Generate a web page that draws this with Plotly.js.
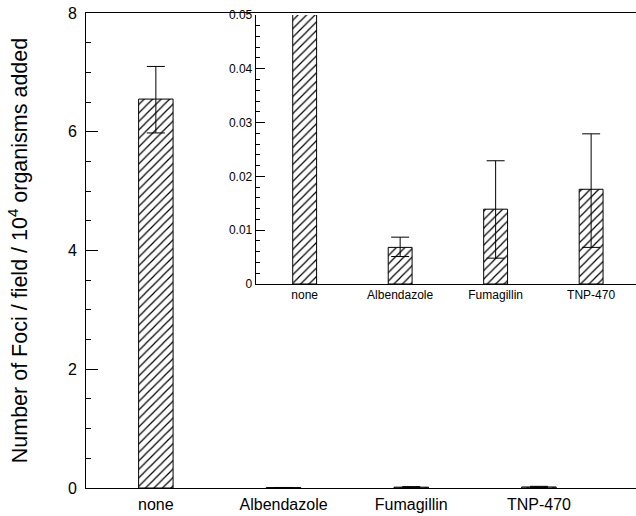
<!DOCTYPE html>
<html>
<head>
<meta charset="utf-8">
<script src="https://cdn.plot.ly/plotly-3.0.1.min.js"></script>
<style>html,body{margin:0;padding:0;background:#fff;}#chart{width:636px;height:516px;}</style>
</head>
<body>
<div id="chart"></div>
<script>
const categories = ['none', 'Albendazole', 'Fumagillin', 'TNP-470'];
const fociValues = [6.55, 0.0068, 0.0139, 0.0176];
const errorPlus = [0.55, 0.0019, 0.0090, 0.0103];
const errorMinus = [0.57, 0.0017, 0.0091, 0.0108];
const mainTickVals = [0, 2, 4, 6, 8];
const insetTickVals = [0, 0.01, 0.02, 0.03, 0.04, 0.05];
const insetTickText = ['0', '0.01', '0.02', '0.03', '0.04', '0.05'];

const font = 'Liberation Sans, Arial, Helvetica, sans-serif';
const pattern = {shape: '/', fgcolor: '#000', bgcolor: '#fff', size: 6, solidity: 0.2};

function barTrace(xa, ya, width, capw) {
  return {
    type: 'bar', x: categories, y: fociValues, xaxis: xa, yaxis: ya,
    width: width,
    marker: {color: '#fff', pattern: pattern, line: {color: '#000', width: 1}},
    error_y: {type: 'data', symmetric: false, array: errorPlus, arrayminus: errorMinus,
              color: '#000', thickness: 1, width: capw},
    cliponaxis: true,
    hoverinfo: 'skip', showlegend: false
  };
}

const data = [barTrace('x', 'y', 0.27, 9), barTrace('x2', 'y2', 0.25, 9)];

const layout = {
  width: 636, height: 516,
  margin: {l: 86, r: 0, t: 13, b: 28},
  paper_bgcolor: '#fff', plot_bgcolor: 'rgba(0,0,0,0)',
  font: {family: font, color: '#000'},
  showlegend: false,
  xaxis: {
    domain: [0, 1], range: [-0.547, 3.76], type: 'category',
    showline: true, linecolor: '#000', linewidth: 1, mirror: true,
    ticks: '', showgrid: false, zeroline: false, ticklabelstandoff: 2,
    tickfont: {size: 16, family: font}, fixedrange: true
  },
  yaxis: {
    domain: [0, 1], range: [0, 8],
    tickvals: mainTickVals, ticks: 'inside', ticklen: 12, tickcolor: '#000',
    minor: {dtick: 0.5, ticks: 'inside', ticklen: 5, tickcolor: '#000', showgrid: false},
    showline: true, linecolor: '#000', linewidth: 1,
    showgrid: false, zeroline: false, ticklabelstandoff: 5,
    tickfont: {size: 16, family: font},
    title: {text: 'Number of Foci / field / 10<sup>4</sup> organisms added',
            font: {size: 21.5, family: font}, standoff: 34},
    fixedrange: true
  },
  xaxis2: {
    domain: [0.3085, 1], range: [-0.513, 3.47], type: 'category', anchor: 'y2',
    showline: true, linecolor: '#000', linewidth: 1,
    ticks: '', showgrid: false, zeroline: false,
    tickfont: {size: 12, family: font}, fixedrange: true
  },
  yaxis2: {
    domain: [0.4295, 0.996], range: [0, 0.05], anchor: 'x2',
    tickvals: insetTickVals, ticktext: insetTickText,
    ticks: 'inside', ticklen: 9, tickcolor: '#000',
    minor: {dtick: 0.002, ticks: 'inside', ticklen: 4, tickcolor: '#000', showgrid: false},
    showline: true, linecolor: '#000', linewidth: 1,
    showgrid: false, zeroline: false,
    tickfont: {size: 12, family: font}, fixedrange: true
  }
};

Plotly.newPlot('chart', data, layout, {displayModeBar: false, staticPlot: true});
</script>
</body>
</html>
